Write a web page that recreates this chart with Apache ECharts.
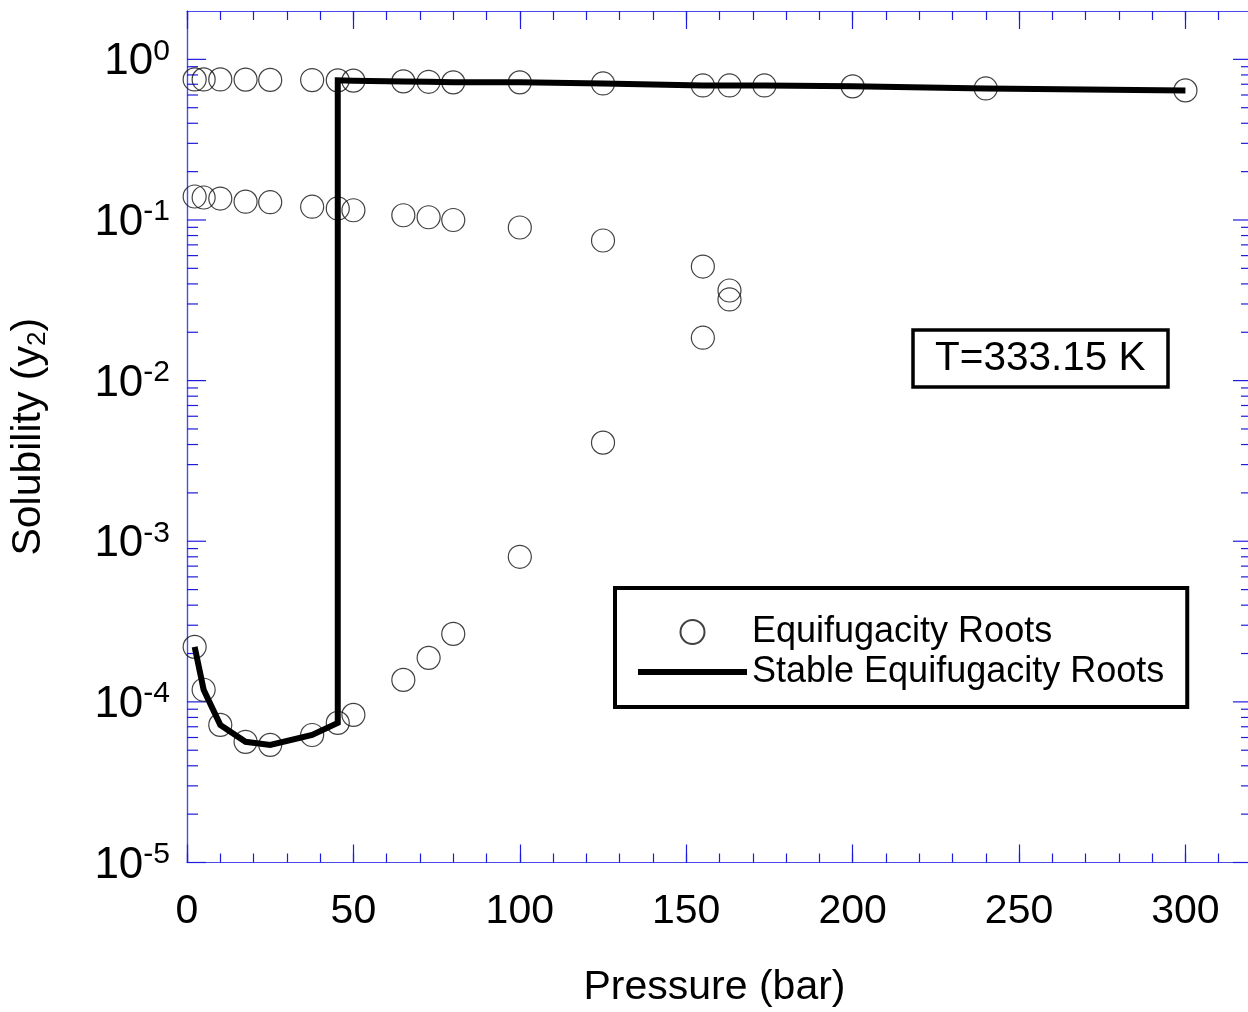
<!DOCTYPE html>
<html>
<head>
<meta charset="utf-8">
<script src="https://cdn.jsdelivr.net/npm/echarts@6/dist/echarts.min.js"></script>
<style>
  html, body { margin: 0; padding: 0; background: #fff; }
  #chart { width: 1248px; height: 1012px; }
</style>
</head>
<body>
<div id="chart"></div>
<script>
// upper (vapour-like) root branch
const upperP = [2.3, 5, 10, 17.6, 25, 37.6, 45.3, 50, 65, 72.6, 80, 100, 125, 155, 163, 173.5, 200, 240, 300];
const upperY = [0.75, 0.75, 0.75, 0.748, 0.745, 0.743, 0.74, 0.737, 0.729, 0.725, 0.719, 0.719, 0.708, 0.688, 0.688, 0.688, 0.679, 0.659, 0.641];

// middle root branch
const middleP = [2.3, 5, 10, 17.6, 25, 37.6, 45.3, 50, 65, 72.6, 80, 100, 125, 155, 163];
const middleY = [0.140, 0.138, 0.136, 0.130, 0.129, 0.121, 0.118, 0.115, 0.107, 0.104, 0.100, 0.0898, 0.0745, 0.0513, 0.0364];

// closing branch near 155-163 bar
const closeP = [163, 155];
const closeY = [0.0320, 0.0185];

// lower root branch
const lowerP = [2.3, 5, 10, 17.6, 25, 37.6, 45.3, 50, 65, 72.6, 80, 100, 125];
const lowerY = [2.2e-4, 1.19e-4, 7.19e-5, 5.64e-5, 5.4e-5, 6.22e-5, 7.4e-5, 8.3e-5, 1.37e-4, 1.88e-4, 2.65e-4, 8.0e-4, 4.11e-3];

// stable roots (solid line)
const stableP = [2.3, 5, 10, 17.6, 25, 37.6, 45.3, 45.3, 50, 65, 72.6, 80, 100, 125, 155, 163, 173.5, 200, 240, 300];
const stableY = [2.2e-4, 1.19e-4, 7.19e-5, 5.64e-5, 5.4e-5, 6.22e-5, 7.4e-5, 0.74, 0.737, 0.729, 0.725, 0.719, 0.719, 0.708, 0.688, 0.688, 0.688, 0.679, 0.659, 0.641];

// y (log) axis tick positions
const yMajorTicks = [1e-5, 1e-4, 1e-3, 1e-2, 1e-1, 1];
const yMinorTicks = [];
for (let e = -5; e <= -1; e++) {
  for (let k = 2; k <= 9; k++) yMinorTicks.push(k * Math.pow(10, e));
}

const zip = (xs, ys) => xs.map((x, i) => [x, ys[i]]);
const rootPoints = [].concat(zip(upperP, upperY), zip(middleP, middleY), zip(closeP, closeY), zip(lowerP, lowerY));

const FONT = 'Liberation Sans, Arial, sans-serif';
const AXIS_BLUE = '#4a4aec';
const TICK_BLUE = '#1c1ce0';
const X_MAX = 320;

const chart = echarts.init(document.getElementById('chart'), null, { renderer: 'canvas' });

const xMajor = (pos, withLabel) => ({
  type: 'value', position: pos, min: 0, max: X_MAX, interval: 50,
  axisLine: { show: true, lineStyle: { color: AXIS_BLUE, width: 1.2 } },
  axisTick: { show: true, inside: true, length: 18, lineStyle: { color: TICK_BLUE, width: 1.2 } },
  axisLabel: withLabel ? {
    show: true, fontSize: 41, fontFamily: FONT, color: '#000', margin: 29,
    showMaxLabel: false,
    formatter: v => (v % 50 === 0 ? String(v) : '')
  } : { show: false },
  splitLine: { show: false }
});
const xMinor = (pos) => ({
  type: 'value', position: pos, min: 0, max: X_MAX, interval: 10,
  axisLine: { show: false },
  axisTick: { show: true, inside: true, length: 9, lineStyle: { color: TICK_BLUE, width: 1.2 } },
  axisLabel: { show: false },
  splitLine: { show: false }
});

const yLog = (pos, withLabel) => ({
  type: 'log', logBase: 10, position: pos, min: 1e-5, max: 2,
  axisLine: { show: true, lineStyle: { color: AXIS_BLUE, width: 1.2 } },
  axisTick: { show: false },
  axisLabel: withLabel ? {
    show: true, margin: 17, color: '#000', fontFamily: FONT,
    formatter: v => {
      const e = Math.log10(v);
      if (Math.abs(e - Math.round(e)) > 1e-6) return '';
      return '{b|10}{s|' + Math.round(e) + '}';
    },
    rich: {
      b: { fontSize: 44, lineHeight: 52, fontFamily: FONT, color: '#000', padding: [6, 0, 0, 0] },
      s: { fontSize: 30, lineHeight: 30, fontFamily: FONT, color: '#000', verticalAlign: 'top', padding: [3, 0, 0, 0] }
    }
  } : { show: false },
  splitLine: { show: false }
});

const yAxisLeft = yLog('left', true);
yAxisLeft.name = 'Solubility (y{sub|2})';
yAxisLeft.nameLocation = 'middle';
yAxisLeft.nameGap = 136;
yAxisLeft.nameTextStyle = {
  fontSize: 41, fontFamily: FONT, color: '#000',
  rich: { sub: { fontSize: 26, fontFamily: FONT, color: '#000', verticalAlign: 'bottom', padding: [18, 0, 0, 0] } }
};

const xAxisBottom = xMajor('bottom', true);
xAxisBottom.name = 'Pressure (bar)';
xAxisBottom.nameLocation = 'middle';
xAxisBottom.nameGap = 105;
xAxisBottom.nameTextStyle = { fontSize: 41, fontFamily: FONT, color: '#000', padding: [0, 10, 0, 0] };

// tick marks on the left and right frame drawn in data space
const yTickData = [].concat(yMajorTicks.map(v => [0, v, 19]), yMinorTicks.map(v => [0, v, 11]));

const option = {
  backgroundColor: '#fff',
  animation: false,
  textStyle: { fontFamily: FONT },
  title: {
    text: 'T=333.15 K',
    left: 913, top: 330,
    padding: [8, 23, 8, 22],
    borderColor: '#000', borderWidth: 3.5,
    textStyle: { fontSize: 40.5, fontWeight: 'normal', fontFamily: FONT, color: '#000' }
  },
  legend: {
    orient: 'vertical',
    left: 615, top: 588,
    padding: [26, 23, 17, 20],
    itemWidth: 109, itemHeight: 24, itemGap: 4,
    borderColor: '#000', borderWidth: 4,
    data: [
      { name: 'Equifugacity Roots', icon: 'circle' },
      { name: 'Stable Equifugacity Roots', itemStyle: { opacity: 0 }, lineStyle: { width: 6, color: '#000' } }
    ],
    textStyle: { fontSize: 36, fontFamily: FONT, color: '#000' }
  },
  grid: { left: 187, top: 11, right: -4, bottom: 149.5, outerBoundsMode: 'none', containLabel: false },
  xAxis: [xAxisBottom, xMinor('bottom'), xMajor('top', false), xMinor('top')],
  yAxis: [yAxisLeft, yLog('right', false)],
  series: [
    {
      name: 'Equifugacity Roots',
      type: 'scatter',
      xAxisIndex: 0, yAxisIndex: 0,
      symbol: 'circle', symbolSize: 23,
      itemStyle: { color: 'rgba(0,0,0,0)', borderColor: '#111', borderWidth: 1.2 },
      data: rootPoints,
      z: 2
    },
    {
      name: 'Stable Equifugacity Roots',
      type: 'line',
      xAxisIndex: 0, yAxisIndex: 0,
      symbol: 'none',
      color: '#000',
      lineStyle: { color: '#000', width: 6, join: 'miter', cap: 'butt' },
      data: zip(stableP, stableY),
      z: 3
    },
    {
      name: 'yTicks',
      type: 'custom',
      xAxisIndex: 0, yAxisIndex: 0,
      silent: true,
      encode: { x: 0, y: 1 },
      data: yTickData,
      renderItem: (params, api) => {
        const v = api.value(1);
        const len = api.value(2);
        const l = api.coord([0, v]);
        const r = api.coord([X_MAX, v]);
        const style = { stroke: TICK_BLUE, lineWidth: 1.2 };
        return {
          type: 'group',
          children: [
            { type: 'line', shape: { x1: l[0], y1: l[1], x2: l[0] + len, y2: l[1] }, style: style },
            { type: 'line', shape: { x1: r[0] - len, y1: r[1], x2: r[0], y2: r[1] }, style: style }
          ]
        };
      },
      z: 1
    }
  ]
};

chart.setOption(option);
window.addEventListener('resize', () => chart.resize());
</script>
</body>
</html>
